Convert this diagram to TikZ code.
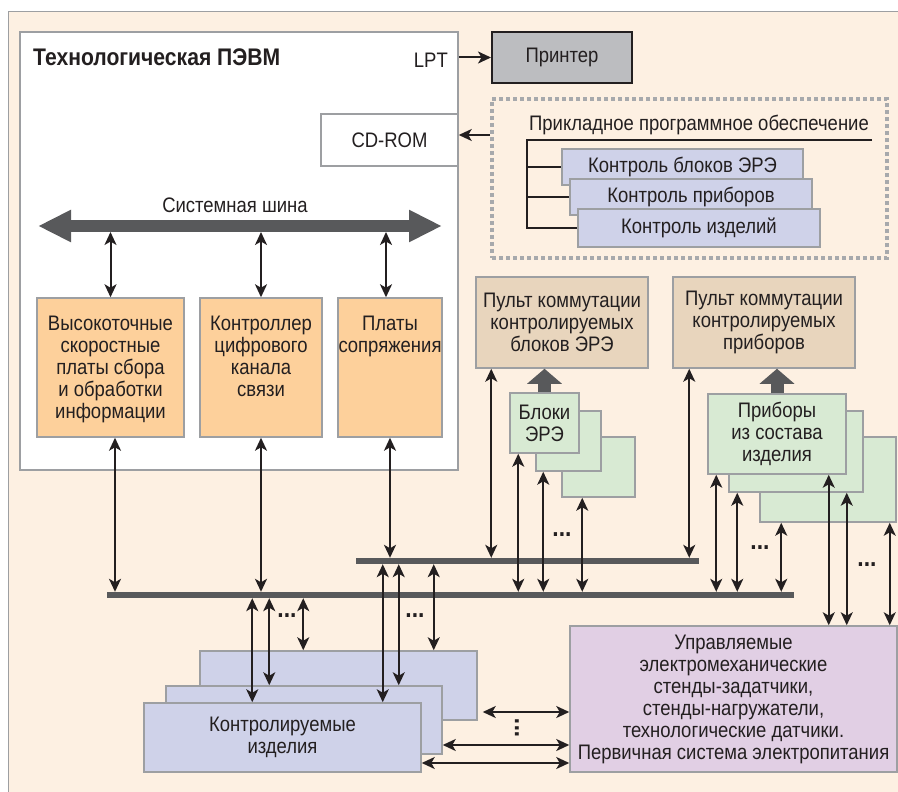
\documentclass[tikz,border=0pt]{standalone}
\usepackage{fontspec}
\setmainfont{Liberation Sans}[FakeStretch=0.88]
\usetikzlibrary{arrows.meta,positioning}
\definecolor{bgbeige}{HTML}{FDF0E2}
\definecolor{txtcol}{HTML}{231F20}
\definecolor{boxgray}{HTML}{9D9FA2}
\definecolor{orangefill}{HTML}{FDD09B}
\definecolor{tanfill}{HTML}{E8D5BD}
\definecolor{greenfill}{HTML}{D8EAD3}
\definecolor{lavfill}{HTML}{CFD2E9}
\definecolor{lilacfill}{HTML}{E1CFE4}
\definecolor{prnfill}{HTML}{BCBDC0}
\definecolor{busgray}{HTML}{58595B}
\definecolor{dotgray}{HTML}{A7A9AC}

\begin{document}
\begin{tikzpicture}[x=1pt, y=-1pt, font=\fontsize{21}{22}\selectfont,
	box/.style={draw=boxgray, line width=1.5pt, inner sep=0pt, align=center, text=txtcol},
	obox/.style={box, fill=orangefill},
	tbox/.style={box, fill=tanfill},
	gbox/.style={box, fill=greenfill},
	lbox/.style={box, fill=lavfill},
	txt/.style={inner sep=0pt, align=center, text=txtcol},
	bus/.style={fill=busgray, inner sep=0pt},
	link/.style={{Stealth[length=13pt,width=12pt,inset=3.5pt]}-{Stealth[length=13pt,width=12pt,inset=3.5pt]}, line width=2pt, draw=txtcol},
	link1/.style={-{Stealth[length=13pt,width=12pt,inset=3.5pt]}, line width=2pt, draw=txtcol},
	fatarrow/.style={-{Triangle[width=34pt,length=15pt]}, line width=13pt, draw=busgray},
	dots/.style={inner sep=0pt, text=txtcol, font=\bfseries\fontsize{26}{26}\selectfont}]
	\useasboundingbox (0,0) rectangle (898,792);
	% background
	\fill[bgbeige] (8,12) rectangle (905,800);
	\draw[boxgray, line width=1pt] (905,12) -- (8,12) -- (8,800);

	% computer
	\node[box, fill=white, minimum width=438pt, minimum height=438pt] (pc) at (239,251) {};
	\node[txt, anchor=west, font=\bfseries\fontsize{24}{26}\selectfont] (title) at (33,57) {Технологическая ПЭВМ};
	\node[txt, anchor=east] (lpt) at (448,60) {LPT};
	\node[box, fill=white, minimum width=137pt, minimum height=52pt] (cd) at (389.5,140) {CD-ROM};
	\node[box, draw=txtcol, line width=2pt, fill=prnfill, minimum width=140pt, minimum height=51pt] (prn) at (562,57.5) {Принтер};

	% system bus
	\coordinate (sb w) at (38,226);
	\coordinate (sb e) at (442,226);
	\draw[line width=12pt, busgray, {Triangle[width=30pt,length=33pt]}-{Triangle[width=30pt,length=33pt]}] (sb w) -- (sb e);
	\node[txt] (sblbl) at (235,205) {Системная шина};

	\node[obox, minimum width=147pt, minimum height=139pt] (hsb) at (110.5,367.5) {};
	\node[obox, minimum width=122pt, minimum height=139pt] (dcc) at (261,367.5) {};
	\node[obox, minimum width=104pt, minimum height=139pt] (ifb) at (390,367.5) {};
	\node[txt, anchor=north] at ([yshift=-19pt]hsb.north) {Высокоточные\\скоростные\\платы сбора\\и обработки\\информации};
	\node[txt, anchor=north] at ([yshift=-19pt]dcc.north) {Контроллер\\цифрового\\канала\\связи};
	\node[txt, anchor=north] at ([yshift=-19pt]ifb.north) {Платы\\сопряжения};

	% application software
	\node[draw=dotgray, line width=4pt, dash pattern=on 4pt off 3pt, minimum width=395pt, minimum height=159pt] (soft) at (689.5,178.5) {};
	\node[txt] (swlbl) at (699,125) {Прикладное программное обеспечение};
	\coordinate (tree) at (527,140);
	\coordinate (tree end) at (872,140);
	\node[lbox, minimum width=241pt, minimum height=36pt] (c1) at (682.5,167) {Контроль блоков ЭРЭ};
	\node[lbox, minimum width=242pt, minimum height=36pt] (c2) at (691,197) {Контроль приборов};
	\node[lbox, minimum width=242pt, minimum height=38pt] (c3) at (699,228) {Контроль изделий};
	\draw[line width=2pt, txtcol] (tree end) -- (tree) |- (c3.west);
	\draw[line width=2pt, txtcol] (tree) |- (c1.west);
	\draw[line width=2pt, txtcol] (tree) |- (c2.west);

	% switching panels
	\node[tbox, minimum width=172pt, minimum height=91pt] (p1) at (562,322.5) {Пульт коммутации\\контролируемых\\блоков ЭРЭ};
	\node[tbox, minimum width=182pt, minimum height=91pt] (p2) at (764,322.5) {Пульт коммутации\\контролируемых\\приборов};

	\node[gbox, minimum width=73pt, minimum height=60pt] (b3) at (598.5,467) {};
	\node[gbox, minimum width=65pt, minimum height=60pt] (b2) at (568.5,441) {};
	\node[gbox, minimum width=69pt, minimum height=60pt] (b1) at (544.5,423) {Блоки\\ЭРЭ};
	\node[gbox, minimum width=136pt, minimum height=85pt] (d3) at (828,479.5) {};
	\node[gbox, minimum width=134pt, minimum height=81pt] (d2) at (796,451.5) {};
	\node[gbox, minimum width=138pt, minimum height=80pt] (d1) at (777,434) {Приборы\\из состава\\изделия};
	\draw[fatarrow] (b1.north) -- (b1.north |- p1.south);
	\draw[fatarrow] (d1.north) -- (d1.north |- p2.south);

	% buses
	\node[bus, minimum width=687pt, minimum height=6pt] (lbus) at (450.5,595) {};
	\node[bus, minimum width=343pt, minimum height=6pt] (ubus) at (527.5,561) {};

	% tested items and stands
	\node[lbox, minimum width=277pt, minimum height=69pt] (k3) at (338.5,685.5) {};
	\node[lbox, minimum width=276pt, minimum height=68pt] (k2) at (304,720) {};
	\node[lbox, minimum width=277pt, minimum height=69pt] (k1) at (282.5,737.5) {Контролируемые\\изделия};
	\node[box, fill=lilacfill, minimum width=327pt, minimum height=146pt] (pur) at (733.5,699) {Управляемые\\электромеханические\\стенды-задатчики,\\стенды-нагружатели,\\технологические датчики.\\Первичная система электропитания};

	% connectors
	\draw[link1] (pc.east |- prn.west) -- (prn.west);
	\draw[link1] ([yshift=5pt]cd.east -| soft.west) -- ([yshift=5pt]cd.east);
	\draw[link, shorten <=6pt] (hsb.north |- sb w) -- (hsb.north);
	\draw[link, shorten <=6pt] (dcc.north |- sb w) -- (dcc.north);
	\draw[link, shorten <=6pt] ([xshift=-4pt]ifb.north |- sb w) -- ([xshift=-4pt]ifb.north);
	\draw[link] ([xshift=4.5pt]hsb.south) -- ([xshift=4.5pt]hsb.south |- lbus.north);
	\draw[link] (dcc.south) -- (dcc.south |- lbus.north);
	\draw[link] (ifb.south) -- (ifb.south |- ubus.north);
	\draw[link] ([xshift=16pt]p1.south west) -- ([xshift=16pt]p1.south west |- ubus.north);
	\draw[link] ([xshift=17pt]p2.south west) -- ([xshift=17pt]p2.south west |- ubus.north);
	\draw[link] ([xshift=9pt]b1.south west) -- ([xshift=9pt]b1.south west |- lbus.north);
	\draw[link] ([xshift=8pt]b2.south west) -- ([xshift=8pt]b2.south west |- lbus.north);
	\draw[link] ([xshift=21pt]b3.south west) -- ([xshift=21pt]b3.south west |- lbus.north);
	\draw[link] ([xshift=9pt]d1.south west) -- ([xshift=9pt]d1.south west |- lbus.north);
	\draw[link] ([xshift=9pt]d2.south west) -- ([xshift=9pt]d2.south west |- lbus.north);
	\draw[link] ([xshift=22pt]d3.south west) -- ([xshift=22pt]d3.south west |- lbus.north);
	\draw[link] ([xshift=-18pt]d1.south east) -- ([xshift=-18pt]d1.south east |- pur.north);
	\draw[link] ([xshift=-17pt]d2.south east) -- ([xshift=-17pt]d2.south east |- pur.north);
	\draw[link] ([xshift=-7pt]d3.south east) -- ([xshift=-7pt]d3.south east |- pur.north);
	\draw[link] ([xshift=109pt]k1.north west |- lbus.south) -- ([xshift=109pt]k1.north west);
	\draw[link] ([xshift=104pt]k2.north west |- lbus.south) -- ([xshift=104pt]k2.north west);
	\draw[link] ([xshift=104pt]k3.north west |- lbus.south) -- ([xshift=104pt]k3.north west);
	\draw[link] ([xshift=-39pt]k1.north east |- ubus.south) -- ([xshift=-39pt]k1.north east);
	\draw[link] ([xshift=-44pt]k2.north east |- ubus.south) -- ([xshift=-44pt]k2.north east);
	\draw[link] ([xshift=-44pt]k3.north east |- ubus.south) -- ([xshift=-44pt]k3.north east);
	\draw[link] ([yshift=-26.5pt,xshift=5pt]k3.east) -- ([yshift=-26.5pt]k3.east -| pur.west);
	\draw[link] ([yshift=-25pt]k2.east) -- ([yshift=-25pt]k2.east -| pur.west);
	\draw[link] ([yshift=-25.5pt]k1.east) -- ([yshift=-25.5pt]k1.east -| pur.west);

	\node[dots] at (287,616) {...};
	\node[dots] at (415,616) {...};
	\node[dots] at (562,535) {...};
	\node[dots] at (760,548) {...};
	\node[dots] at (867,565) {...};
	\node[dots, rotate=90] at (517,728) {...};
\end{tikzpicture}
\end{document}
